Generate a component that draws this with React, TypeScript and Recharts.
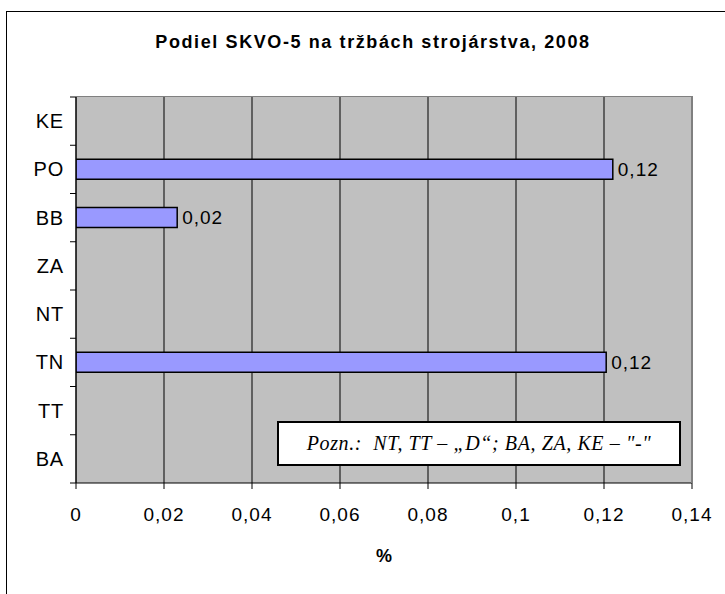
import React from 'react';
import { BarChart, Bar, XAxis, YAxis, CartesianGrid, LabelList } from 'recharts';

// regions top to bottom, as in the original chart
const regions = ['KE', 'PO', 'BB', 'ZA', 'NT', 'TN', 'TT', 'BA'];
// share in %, null where no value is published
const shares: (number | null)[] = [null, 0.122, 0.023, null, null, 0.1205, null, null];
const xTicks = [0, 0.02, 0.04, 0.06, 0.08, 0.1, 0.12, 0.14];

const W = 725;
const H = 594;
const PLOT_LEFT = 76;
const PLOT_TOP = 97;
const PLOT_RIGHT = 692;
const PLOT_BOTTOM = 483;
const BAND = (PLOT_BOTTOM - PLOT_TOP) / regions.length;
const FONT = '"Liberation Sans", Arial, sans-serif';

const data = regions.map((r, i) => ({ region: r, share: shares[i] }));

const formatNum = (v: number) => String(v).replace('.', ',');

const RegionTick = (props: any) => {
  const { x, y, payload, index } = props;
  const isLast = index === regions.length - 1 || payload.value === regions[regions.length - 1];
  return (
    <g>
      <text x={x} y={y} dy="0.35em" textAnchor="end" fill="#000" fontSize={20} letterSpacing={0.8} fontFamily={FONT}>
        {payload.value}
      </text>
      <line x1={PLOT_LEFT - 6} x2={PLOT_LEFT} y1={y - BAND / 2} y2={y - BAND / 2} stroke="#000" />
      {isLast && (
        <line x1={PLOT_LEFT - 6} x2={PLOT_LEFT} y1={y + BAND / 2} y2={y + BAND / 2} stroke="#000" />
      )}
    </g>
  );
};

const ValueLabel = (props: any) => {
  const { x, y, width, height, value } = props;
  if (value == null) return null;
  return (
    <text
      x={x + width + 5}
      y={y + height / 2}
      dy="0.35em"
      fill="#000"
      fontSize={19}
      letterSpacing={1}
      fontFamily={FONT}
    >
      {Number(value).toFixed(2).replace('.', ',')}
    </text>
  );
};

export default function App() {
  return (
    <div style={{ position: 'relative', width: W, height: H, overflow: 'hidden', background: '#fff', fontFamily: FONT }}>
      <style>{'body{margin:0}'}</style>
      {/* chart frame */}
      <div style={{ position: 'absolute', left: 6, top: 11, width: 900, height: 900, border: '1px solid #000' }} />
      <div
        style={{
          position: 'absolute',
          left: 0,
          width: 746,
          top: 29,
          textAlign: 'center',
          fontWeight: 'bold',
          fontSize: 18,
          letterSpacing: 1.6,
          lineHeight: '26px',
          color: '#000',
        }}
      >
        Podiel SKVO-5 na tržbách strojárstva, 2008
      </div>
      <div style={{ position: 'absolute', top: 0, left: 0 }}>
        <BarChart
          width={W}
          height={H}
          data={data}
          layout="vertical"
          margin={{ top: PLOT_TOP, right: W - PLOT_RIGHT, left: 0, bottom: 81 }}
          barCategoryGap={0}
        >
          <CartesianGrid horizontal={false} stroke="#000" fill="#C0C0C0" />
          <XAxis
            type="number"
            domain={[0, 0.14]}
            ticks={xTicks}
            tickFormatter={formatNum}
            axisLine={{ stroke: '#000' }}
            tickLine={{ stroke: '#000' }}
            tickSize={6}
            tickMargin={19}
            height={30}
            tick={{ fill: '#000', fontSize: 19, letterSpacing: 1, fontFamily: FONT }}
            allowDataOverflow
          />
          <YAxis
            type="category"
            dataKey="region"
            width={PLOT_LEFT}
            axisLine={{ stroke: '#000' }}
            tickLine={false}
            tickSize={0}
            tickMargin={12}
            tick={<RegionTick />}
            interval={0}
          />
          <Bar dataKey="share" fill="#9999FF" stroke="#000" strokeWidth={1.5} barSize={20} isAnimationActive={false}>
            <LabelList dataKey="share" content={<ValueLabel />} />
          </Bar>
        </BarChart>
      </div>
      {/* plot area border (top / right) */}
      <div
        style={{
          position: 'absolute',
          left: PLOT_LEFT,
          top: PLOT_TOP - 1,
          width: PLOT_RIGHT - PLOT_LEFT - 1,
          height: PLOT_BOTTOM - PLOT_TOP,
          borderTop: '1px solid #808080',
          borderRight: '2px solid #808080',
          pointerEvents: 'none',
        }}
      />
      {/* note box */}
      <div
        style={{
          position: 'absolute',
          left: 277,
          top: 421,
          width: 400,
          height: 41,
          border: '2px solid #000',
          background: '#fff',
          display: 'flex',
          alignItems: 'center',
          justifyContent: 'center',
          fontFamily: '"Liberation Serif", "Times New Roman", serif',
          fontStyle: 'italic',
          fontSize: 20,
          letterSpacing: 0.6,
          color: '#000',
          whiteSpace: 'pre',
        }}
      >
        {'Pozn.:  NT, TT – „D“; BA, ZA, KE – "-"'}
      </div>
      <div
        style={{
          position: 'absolute',
          left: PLOT_LEFT,
          width: PLOT_RIGHT - PLOT_LEFT,
          top: 543,
          textAlign: 'center',
          fontWeight: 'bold',
          fontSize: 18,
          lineHeight: '26px',
        }}
      >
        %
      </div>
    </div>
  );
}
